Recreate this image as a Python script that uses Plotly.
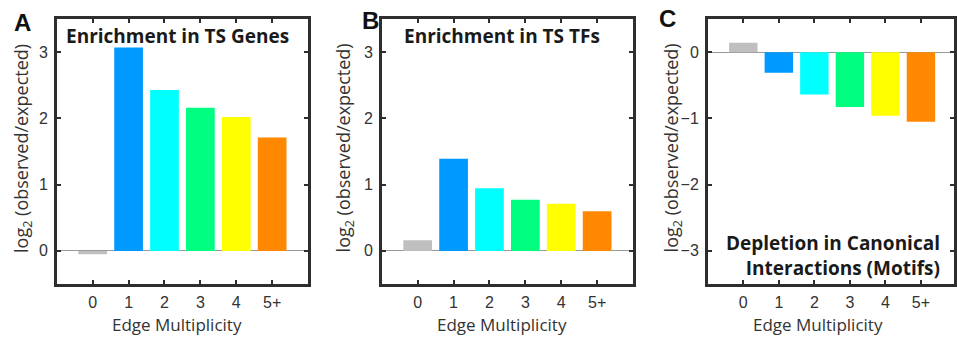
import plotly.graph_objects as go

categories = ["0", "1", "2", "3", "4", "5+"]
ts_genes = [-0.05, 3.07, 2.43, 2.16, 2.02, 1.71]
ts_tfs = [0.16, 1.39, 0.945, 0.77, 0.71, 0.60]
motifs = [0.14, -0.31, -0.64, -0.83, -0.96, -1.05]
bar_colors = ["#bfbfbf", "#0099ff", "#00ffff", "#00ff80", "#ffff00", "#ff8800"]

panel_titles = ["Enrichment in TS Genes", "Enrichment in TS TFs",
                "Depletion in Canonical<br>Interactions (Motifs)"]
panel_letters = ["A", "B", "C"]
x_title = "Edge Multiplicity"
y_title = "log<sub>2</sub> (observed/expected)"

W, H = 957, 337
xpos = list(range(len(categories)))

fig = go.Figure()
series = [ts_genes, ts_tfs, motifs]
for i, vals in enumerate(series):
    fig.add_trace(go.Bar(x=xpos, y=vals, marker=dict(color=bar_colors, line=dict(width=0)),
                         width=0.8, xaxis="x" if i == 0 else f"x{i+1}",
                         yaxis="y" if i == 0 else f"y{i+1}", showlegend=False))

frame = "#2e2e2e"
left_px = [57, 383, 710]
right_px = [309, 635, 957]
x_ranges = [[-1, 6], [-1, 6], [-1, 5.93]]
y_ranges = [[-0.5, 3.5], [-0.5, 3.5], [-3.5, 0.5]]
y_ticks = [[0, 1, 2, 3], [0, 1, 2, 3], [-3, -2, -1, 0]]
top_px, bot_px = 19, 284
ydom = [1 - bot_px / H, 1 - top_px / H]
tick_font = dict(family="Liberation Sans, Arial", size=16, color="#333333")

layout = dict(width=W, height=H, margin=dict(l=0, r=0, t=0, b=0),
              paper_bgcolor="white", plot_bgcolor="white", bargap=0.2)
for i in range(3):
    sx = "" if i == 0 else str(i + 1)
    layout[f"xaxis{sx}"] = dict(
        domain=[left_px[i] / W, right_px[i] / W], range=x_ranges[i],
        tickmode="array", tickvals=xpos, ticktext=categories,
        showline=True, linecolor=frame, linewidth=2.5, mirror="allticks",
        ticks="inside", ticklen=4, tickwidth=2, tickcolor=frame,
        showgrid=False, zeroline=False, anchor="y" + sx,
        tickfont=tick_font, ticklabelstandoff=2, fixedrange=True)
    layout[f"yaxis{sx}"] = dict(
        domain=ydom, range=y_ranges[i], tickvals=y_ticks[i],
        showline=True, linecolor=frame, linewidth=2.5, mirror="allticks",
        ticks="inside", ticklen=4, tickwidth=2, tickcolor=frame,
        showgrid=False, zeroline=True, zerolinecolor="#999999", zerolinewidth=1,
        anchor="x" + sx,
        tickfont=tick_font, ticklabelstandoff=3, fixedrange=True)
fig.update_layout(**layout)

ann = []
letter_pos = [(22.5, 22), (372, 20), (669.5, 19)]
for (lx, ly), t in zip(letter_pos, panel_letters):
    ann.append(dict(text=f"<b>{t}</b>", x=lx / W, y=1 - ly / H, xref="paper", yref="paper",
                    showarrow=False, xanchor="center", yanchor="middle",
                    font=dict(family="Liberation Sans, Arial", size=24, color="#111111")))

title_font = dict(family="Open Sans", size=19, color="#1a1a1a")
ann.append(dict(text=f"<b>{panel_titles[0]}</b>", x=178.5 / W, y=1 - 36 / H, xref="paper",
                yref="paper", showarrow=False, xanchor="center", yanchor="middle", font=title_font))
ann.append(dict(text=f"<b>{panel_titles[1]}</b>", x=503.5 / W, y=1 - 36 / H, xref="paper",
                yref="paper", showarrow=False, xanchor="center", yanchor="middle", font=title_font))
l1, l2 = panel_titles[2].split("<br>")
ann.append(dict(text=f"<b>{l1}</b><br><b>{l2}</b>",
                x=945 / W, y=1 - 255 / H, xref="paper", yref="paper", showarrow=False,
                xanchor="right", yanchor="middle", align="right", font=title_font))

label_font = dict(family="Open Sans", size=17, color="#333333")
x_centers = [177.5, 504, 821]
for xc in x_centers:
    ann.append(dict(text=x_title, x=xc / W, y=1 - 324 / H, xref="paper", yref="paper",
                    showarrow=False, xanchor="center", yanchor="middle", font=label_font))
y_label_x = [22, 345.5, 674.5]
for yx in y_label_x:
    ann.append(dict(text=y_title, x=yx / W, y=1 - 148 / H, xref="paper", yref="paper",
                    showarrow=False, xanchor="center", yanchor="middle", textangle=-90,
                    font=dict(family="Open Sans", size=18, color="#333333")))
fig.update_layout(annotations=ann)

fig.write_html("out.html")
